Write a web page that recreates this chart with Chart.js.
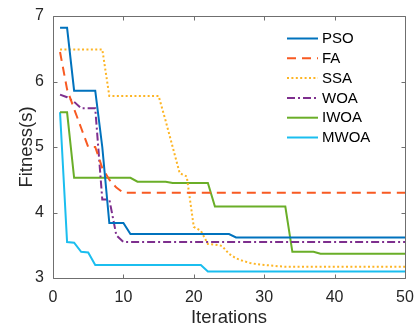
<!DOCTYPE html>
<html><head><meta charset="utf-8">
<script src="https://cdn.jsdelivr.net/npm/chart.js@4.4.1/dist/chart.umd.min.js"></script>
<style>html,body{margin:0;padding:0;background:#fff;}#wrap{width:414px;height:329px;}</style>
</head><body><div id="wrap"><canvas id="c" width="414" height="329"></canvas></div>
<script>
const iterations = [1,2,3,4,5,6,7,8,9,10,11,12,13,14,15,16,17,18,19,20,21,22,23,24,25,26,27,28,29,30,31,32,33,34,35,36,37,38,39,40,41,42,43,44,45,46,47,48,49,50];
const seriesNames = ['PSO','FA','SSA','WOA','IWOA','MWOA'];
const pso  = [6.82,6.82,5.86,5.86,5.86,5.86,5.0,3.84,3.84,3.84,3.67,3.67,3.67,3.67,3.67,3.67,3.67,3.67,3.67,3.67,3.67,3.67,3.67,3.67,3.67,3.62,3.62,3.62,3.62,3.62,3.62,3.62,3.62,3.62,3.62,3.62,3.62,3.62,3.62,3.62,3.62,3.62,3.62,3.62,3.62,3.62,3.62,3.62,3.62,3.62];
const fa   = [6.45,5.88,5.58,5.29,5.0,5.0,4.68,4.5,4.38,4.3,4.3,4.3,4.3,4.3,4.3,4.3,4.3,4.3,4.3,4.3,4.3,4.3,4.3,4.3,4.3,4.3,4.3,4.3,4.3,4.3,4.3,4.3,4.3,4.3,4.3,4.3,4.3,4.3,4.3,4.3,4.3,4.3,4.3,4.3,4.3,4.3,4.3,4.3,4.3,4.3];
const ssa  = [6.49,6.49,6.49,6.49,6.49,6.49,6.49,5.78,5.78,5.78,5.78,5.78,5.78,5.78,5.78,5.4,5.0,4.6,4.55,3.78,3.72,3.52,3.51,3.49,3.37,3.3,3.26,3.23,3.21,3.2,3.19,3.18,3.17,3.17,3.17,3.17,3.17,3.17,3.17,3.17,3.17,3.17,3.17,3.17,3.17,3.17,3.17,3.17,3.17,3.17];
const woa  = [5.8,5.76,5.69,5.59,5.59,5.59,4.2,4.2,3.65,3.55,3.55,3.55,3.55,3.55,3.55,3.55,3.55,3.55,3.55,3.55,3.55,3.55,3.55,3.55,3.55,3.55,3.55,3.55,3.55,3.55,3.55,3.55,3.55,3.55,3.55,3.55,3.55,3.55,3.55,3.55,3.55,3.55,3.55,3.55,3.55,3.55,3.55,3.55,3.55,3.55];
const iwoa = [5.53,5.53,4.53,4.53,4.53,4.53,4.53,4.53,4.53,4.53,4.53,4.47,4.47,4.47,4.47,4.47,4.45,4.45,4.45,4.45,4.45,4.45,4.09,4.09,4.09,4.09,4.09,4.09,4.09,4.09,4.09,4.09,4.09,3.4,3.4,3.4,3.4,3.37,3.37,3.37,3.37,3.37,3.37,3.37,3.37,3.37,3.37,3.37,3.37,3.37];
const mwoa = [5.53,3.55,3.54,3.4,3.39,3.2,3.2,3.2,3.2,3.2,3.2,3.2,3.2,3.2,3.2,3.2,3.2,3.2,3.2,3.2,3.2,3.1,3.1,3.1,3.1,3.1,3.1,3.1,3.1,3.1,3.1,3.1,3.1,3.1,3.1,3.1,3.1,3.1,3.1,3.1,3.1,3.1,3.1,3.1,3.1,3.1,3.1,3.1,3.1,3.1];
const xTicks = [0,10,20,30,40,50];
const yTicks = [3,4,5,6,7];
const xTitle = 'Iterations';
const yTitle = 'Fitness(s)';

const allSeries = [pso, fa, ssa, woa, iwoa, mwoa];
const styles = [
  {c:'#0072BD', d:[]},
  {c:'#F85A22', d:[9,6]},
  {c:'#FDB525', d:[2,2.4]},
  {c:'#7E2F8E', d:[8,3,2,3]},
  {c:'#6AAE28', d:[]},
  {c:'#1BBEEF', d:[]}
];
const FONT = '"Liberation Sans", Arial, sans-serif';

const datasets = seriesNames.map((n,i)=>({
  label:n,
  data: iterations.map((it,k)=>({x:it, y:allSeries[i][k]})),
  borderColor: styles[i].c,
  backgroundColor: styles[i].c,
  borderDash: styles[i].d,
  borderWidth: 2,
  pointRadius: 0,
  tension: 0,
  fill: false
}));

const frame = {
  id:'frame',
  afterDatasetsDraw(chart){
    const {ctx, chartArea:a, scales:{x,y}} = chart;
    ctx.save();
    ctx.strokeStyle = '#6f6f6f';
    ctx.lineWidth = 1;
    const L = Math.round(a.left)+0.5, R = Math.round(a.right)+0.5, T = Math.round(a.top)+0.5, B = Math.round(a.bottom)+0.5;
    ctx.beginPath();
    ctx.rect(L, T, R-L, B-T);
    const tl = 4;
    xTicks.forEach(v=>{
      const px = Math.round(x.getPixelForValue(v))+0.5;
      ctx.moveTo(px, B); ctx.lineTo(px, B-tl);
      ctx.moveTo(px, T); ctx.lineTo(px, T+tl);
    });
    yTicks.forEach(v=>{
      const py = Math.round(y.getPixelForValue(v))+0.5;
      ctx.moveTo(L, py); ctx.lineTo(L+tl, py);
      ctx.moveTo(R, py); ctx.lineTo(R-tl, py);
    });
    ctx.stroke();
    ctx.restore();
  },
  afterDraw(chart){
    const {ctx} = chart;
    ctx.save();
    const x0 = 287, x1 = 318, tx = 322, y0 = 38.5, dy = 19.8;
    chart.data.datasets.forEach((ds,i)=>{
      const yy = y0 + i*dy;
      ctx.strokeStyle = ds.borderColor;
      ctx.lineWidth = ds.borderWidth;
      ctx.setLineDash(ds.borderDash);
      ctx.beginPath(); ctx.moveTo(x0, yy); ctx.lineTo(x1, yy); ctx.stroke();
      ctx.setLineDash([]);
      ctx.fillStyle = '#000';
      ctx.font = '15px ' + FONT;
      ctx.textBaseline = 'middle';
      ctx.textAlign = 'left';
      ctx.fillText(ds.label, tx, yy+0.5);
    });
    ctx.restore();
  }
};

new Chart(document.getElementById('c'), {
  type:'line',
  data:{datasets},
  options:{
    responsive:false,
    animation:false,
    devicePixelRatio:1,
    layout:{padding:{top:16, right:9, left:0, bottom:0}},
    plugins:{legend:{display:false}, tooltip:{enabled:false}},
    scales:{
      x:{
        type:'linear', min:0, max:50,
        afterFit(s){ s.height = 51; s.paddingRight = 0; s.paddingLeft = 0; },
        afterBuildTicks(s){ s.ticks = xTicks.map(v=>({value:v})); },
        grid:{display:false, drawTicks:false},
        border:{display:false},
        ticks:{padding:10, color:'#262626', font:{family:FONT, size:16}, maxRotation:0},
        title:{display:true, text:xTitle, color:'#262626', font:{family:FONT, size:18.5}, padding:{top:0,bottom:0}}
      },
      y:{
        type:'linear', min:3, max:7,
        afterFit(s){ s.width = 53; s.paddingTop = 0; s.paddingBottom = 0; },
        afterBuildTicks(s){ s.ticks = yTicks.map(v=>({value:v})); },
        grid:{display:false, drawTicks:false},
        border:{display:false},
        ticks:{padding:9, color:'#262626', font:{family:FONT, size:16}},
        title:{display:true, text:yTitle, color:'#262626', font:{family:FONT, size:18.5}, padding:{top:16,bottom:0}}
      }
    }
  },
  plugins:[frame]
});
</script></body></html>
